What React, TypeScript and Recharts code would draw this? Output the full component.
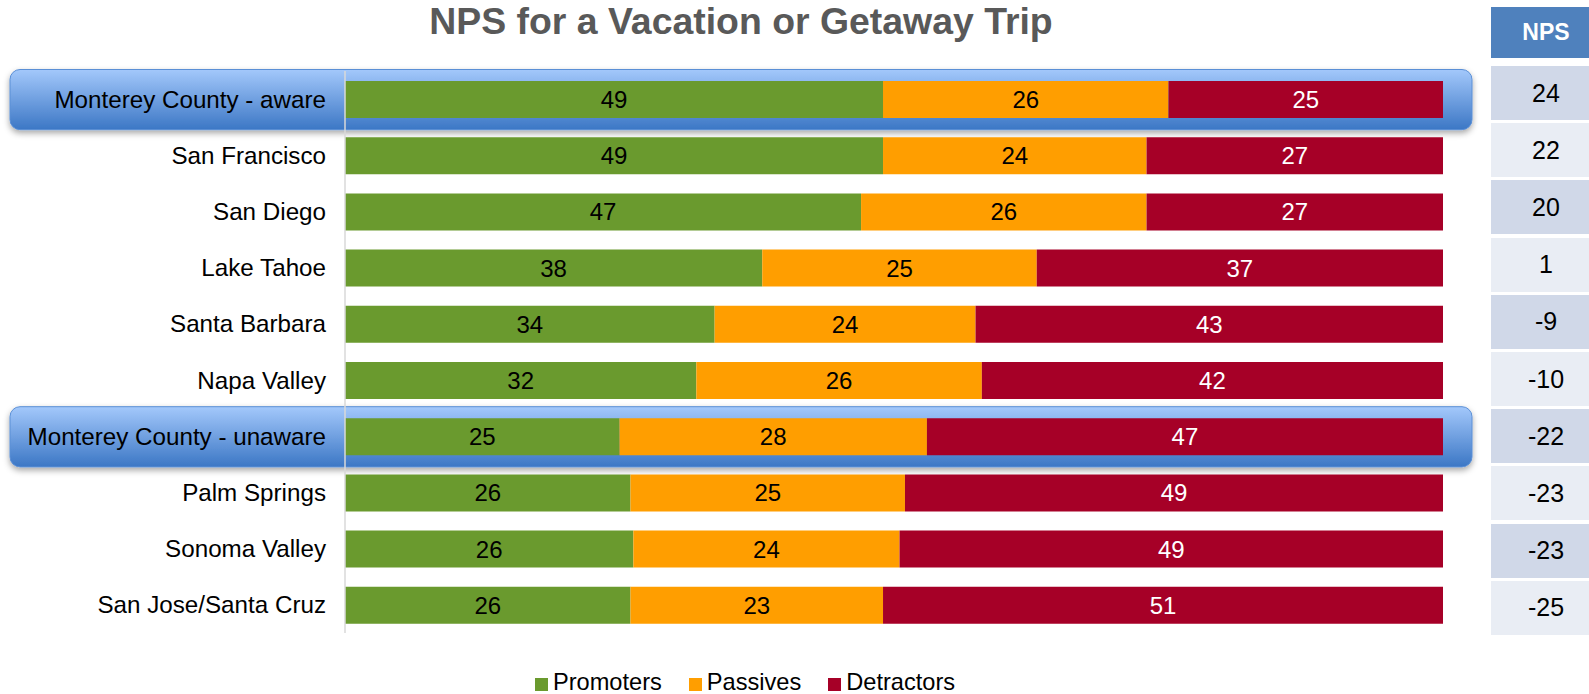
import React from 'react';
import { BarChart, Bar, XAxis, YAxis, LabelList, ReferenceArea } from 'recharts';

const categories = [
  'Monterey County - aware',
  'San Francisco',
  'San Diego',
  'Lake Tahoe',
  'Santa Barbara',
  'Napa Valley',
  'Monterey County - unaware',
  'Palm Springs',
  'Sonoma Valley',
  'San Jose/Santa Cruz',
];
const promoters = [49, 49, 47, 38, 34, 32, 25, 26, 26, 26];
const passives = [26, 24, 26, 25, 24, 26, 28, 25, 24, 23];
const detractors = [25, 27, 27, 37, 43, 42, 47, 49, 49, 51];
const npsValues = [24, 22, 20, 1, -9, -10, -22, -23, -23, -25];
const highlighted = ['Monterey County - aware', 'Monterey County - unaware'];

const seriesNames = ['Promoters', 'Passives', 'Detractors'];
const seriesColors = ['#6a9a2e', '#ff9e00', '#a60027'];
const labelColors = ['#000000', '#000000', '#ffffff'];

const data = categories.map((name, i) => ({
  name,
  promoters: promoters[i],
  passives: passives[i],
  detractors: detractors[i],
}));

const FONT = '"Liberation Sans", Arial, sans-serif';
const W = 1589;
const H = 694;

const HighlightShape = (props: any) => {
  const { y, height } = props;
  const id = `hl-${Math.round(y)}`;
  return (
    <g>
      <defs>
        <linearGradient id={`${id}-g`} x1="0" y1="0" x2="0" y2="1">
          <stop offset="0%" stopColor="#a3c8fb" />
          <stop offset="100%" stopColor="#3c77c5" />
        </linearGradient>
        <filter id={`${id}-f`} x="-5%" y="-30%" width="110%" height="170%">
          <feDropShadow dx="0" dy="3" stdDeviation="3" floodColor="#000" floodOpacity="0.35" />
        </filter>
      </defs>
      <rect
        x={10}
        y={y - 1.5}
        width={1462}
        height={height + 4}
        rx={10}
        ry={10}
        fill={`url(#${id}-g)`}
        stroke="#5a8fd6"
        strokeWidth={1}
        filter={`url(#${id}-f)`}
      />
    </g>
  );
};

export default function App() {
  const keys = ['promoters', 'passives', 'detractors'];
  return (
    <div style={{ position: 'absolute', left: 0, top: 0, width: W, height: H, background: '#fff', fontFamily: FONT, overflow: 'hidden' }}>
      <div
        style={{
          position: 'absolute',
          left: 0,
          top: 0,
          width: 1482,
          textAlign: 'center',
          fontSize: 37.4,
          lineHeight: '42px',
          fontWeight: 'bold',
          color: '#595959',
        }}
      >
        NPS for a Vacation or Getaway Trip
      </div>

      <div style={{ position: 'absolute', left: 0, top: 0 }}>
        <BarChart
          width={W}
          height={H}
          data={data}
          layout="vertical"
          stackOffset="expand"
          margin={{ top: 71, right: 146, bottom: 61, left: 0 }}
        >
          <XAxis type="number" hide domain={[0, 1]} />
          <YAxis
            type="category"
            dataKey="name"
            width={345}
            interval={0}
            tickLine={false}
            tickSize={0}
            tickMargin={19}
            axisLine={{ stroke: '#d9d9d9', strokeWidth: 1.5 }}
            tick={{ fill: '#000', fontSize: 24.2, fontFamily: FONT }}
          />
          {highlighted.map((c) => (
            <ReferenceArea key={c} y1={c} y2={c} shape={HighlightShape} ifOverflow="visible" />
          ))}
          {keys.map((k, i) => (
            <Bar
              key={k}
              dataKey={k}
              name={seriesNames[i]}
              stackId="a"
              fill={seriesColors[i]}
              barSize={37}
              isAnimationActive={false}
            >
              <LabelList
                dataKey={k}
                position="center"
                fill={labelColors[i]}
                fontSize={24}
                fontFamily={FONT}
              />
            </Bar>
          ))}
        </BarChart>
      </div>

      {/* NPS table */}
      <div
        style={{
          position: 'absolute',
          left: 1491,
          top: 7,
          width: 110,
          height: 51,
          background: '#4f81bd',
          color: '#fff',
          fontWeight: 'bold',
          fontSize: 23,
          display: 'flex',
          alignItems: 'center',
          justifyContent: 'center',
        }}
      >
        NPS
      </div>
      {npsValues.map((v, i) => (
        <div
          key={i}
          style={{
            position: 'absolute',
            left: 1491,
            top: 66 + i * 57.2,
            width: 110,
            height: 54,
            background: i % 2 === 0 ? '#d0d8e8' : '#e9edf4',
            color: '#000',
            fontSize: 25,
            display: 'flex',
            alignItems: 'center',
            justifyContent: 'center',
          }}
        >
          {v}
        </div>
      ))}

      {/* Legend */}
      <div
        style={{
          position: 'absolute',
          left: 535,
          top: 671,
          display: 'flex',
          alignItems: 'center',
          fontSize: 23.6,
          lineHeight: '23px',
          color: '#000',
        }}
      >
        {seriesNames.map((n, i) => (
          <div key={n} style={{ display: 'flex', alignItems: 'center', marginRight: 27 }}>
            <span style={{ width: 13, height: 13, background: seriesColors[i], display: 'inline-block', marginRight: 5, marginTop: 4 }} />
            <span>{n}</span>
          </div>
        ))}
      </div>
    </div>
  );
}
